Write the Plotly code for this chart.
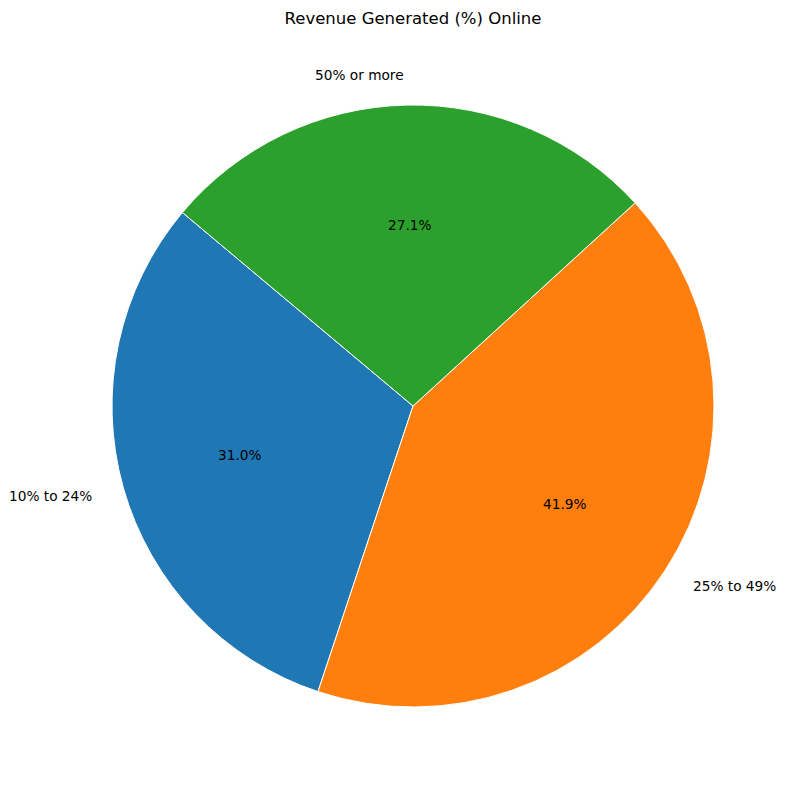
import math
import plotly.graph_objects as go

categories = ["10% to 24%", "25% to 49%", "50% or more"]
values = [31.0, 41.9, 27.1]
colors = ["#1f77b4", "#ff7f0e", "#2ca02c"]
start_angle = 140  # degrees, counterclockwise from 3 o'clock

total = sum(values)
first_span = 360 * values[0] / total
# plotly (counterclockwise): rotation marks the far end of the first slice,
# measured clockwise from 12 o'clock
rotation = 90 - (start_angle + first_span)

fig = go.Figure()
fig.add_trace(go.Pie(
    labels=categories, values=values, sort=False,
    direction="counterclockwise", rotation=rotation,
    marker=dict(colors=colors, line=dict(color="white", width=1)),
    textinfo="none", hoverinfo="label+percent", showlegend=False,
    domain=dict(x=[0, 1], y=[0, 1]),
))

annotations = []
theta = start_angle
font = dict(family="DejaVu Sans", size=13.7, color="black")
for lab, v in zip(categories, values):
    span = 360 * v / total
    mid = math.radians(theta + span / 2)
    c, s = math.cos(mid), math.sin(mid)
    annotations.append(dict(
        x=0.5 + 0.5 * 1.1 * c, y=0.5 + 0.5 * 1.1 * s, xref="paper", yref="paper",
        text=lab, showarrow=False, font=font,
        xanchor="left" if c > 0 else "right", yanchor="middle"))
    annotations.append(dict(
        x=0.5 + 0.5 * 0.6 * c, y=0.5 + 0.5 * 0.6 * s, xref="paper", yref="paper",
        text=f"{100 * v / total:.1f}%", showarrow=False, font=font,
        xanchor="center", yanchor="middle"))
    theta += span

fig.update_layout(
    width=785, height=790,
    margin=dict(l=104, r=79, t=97, b=91),
    paper_bgcolor="white", plot_bgcolor="white",
    title=dict(text="Revenue Generated (%) Online", x=405 / 785, xanchor="center",
               y=1 - 10 / 790, yref="container", yanchor="middle",
               font=dict(family="DejaVu Sans", size=16.5, color="black")),
    annotations=annotations,
)
fig.write_html("out.html")
